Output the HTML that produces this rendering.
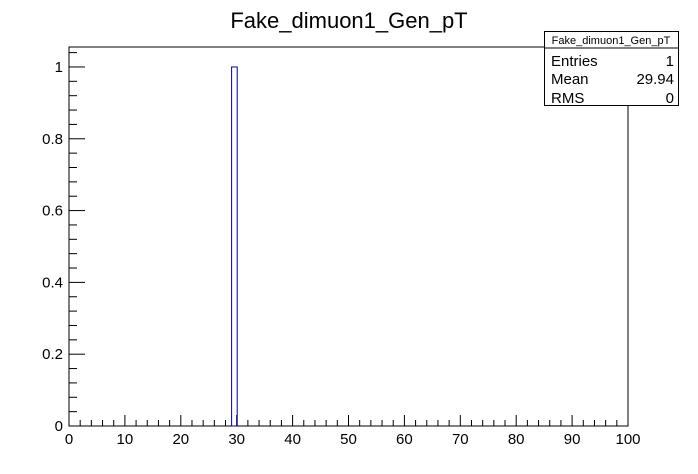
<!DOCTYPE html>
<html><head><meta charset="utf-8"><style>
html,body{margin:0;padding:0;background:#fff;}
svg{display:block;font-family:"Liberation Sans",Arial,sans-serif;}
</style></head><body>
<svg id="c" width="698" height="474">
<text x="349" y="28" font-size="22" text-anchor="middle">Fake_dimuon1_Gen_pT</text>
<rect x="69" y="47" width="559" height="379" fill="none" stroke="#000" stroke-width="1"/>
<g id="axes"></g>
<g id="bars"></g>
<g>
<rect x="544.5" y="31.5" width="134" height="74" fill="#fff" stroke="#000"/>
<line x1="544.5" y1="48" x2="678.5" y2="48" stroke="#000"/>
<text x="611" y="44" font-size="11" text-anchor="middle">Fake_dimuon1_Gen_pT</text>
<text x="551" y="66" font-size="15">Entries</text>
<text x="674" y="66" font-size="15" text-anchor="end">1</text>
<text x="551" y="84" font-size="15">Mean</text>
<text x="674" y="84" font-size="15" text-anchor="end">29.94</text>
<text x="551" y="103" font-size="15">RMS</text>
<text x="674" y="103" font-size="15" text-anchor="end">0</text>
</g>
</svg>
<script>
const binEdges=[29];
const binCounts=[1];
const binWidth=1;
const xTicks=[0,10,20,30,40,50,60,70,80,90,100];
const yTicks=[0,0.2,0.4,0.6,0.8,1];
const NS="http://www.w3.org/2000/svg";
const X0=69,X1=628,Y0=426,Y1=47,XMIN=0,XMAX=100,YMIN=0,YMAX=1.0556;
const sx=v=>X0+(v-XMIN)/(XMAX-XMIN)*(X1-X0);
const sy=v=>Y0-(v-YMIN)/(YMAX-YMIN)*(Y0-Y1);
function mk(tag,attrs,parent){const e=document.createElementNS(NS,tag);for(const k in attrs)e.setAttribute(k,attrs[k]);parent.appendChild(e);return e;}
const ax=document.getElementById('axes');
for(let v=0;v<=100.001;v+=2){const major=Math.abs(v%10)<1e-6;const l=mk('line',{x1:sx(v),x2:sx(v),y1:Y0,y2:Y0-(major?11:6),stroke:'#000'},ax);

}
for(let v=0;v<=1.05;v+=0.04){const major=Math.abs(v/0.2-Math.round(v/0.2))<1e-6;const l=mk('line',{x1:X0,x2:X0+(major?16:8),y1:sy(v),y2:sy(v),stroke:'#000'},ax);

}
xTicks.forEach(v=>{const t=mk('text',{x:sx(v),y:444,'font-size':15,'text-anchor':'middle'},ax);t.textContent=v;

});
yTicks.forEach(v=>{const t=mk('text',{x:63,y:sy(v)+5,'font-size':15,'text-anchor':'end'},ax);t.textContent=v;

});
const bg=document.getElementById('bars');
binEdges.forEach((e,i)=>{const r=mk('rect',{x:sx(e)+0.5,y:sy(binCounts[i]),width:sx(e+binWidth)-sx(e),height:Y0-sy(binCounts[i]),fill:'none',stroke:'#000080','stroke-width':1},bg);

});
</script>
</body></html>
